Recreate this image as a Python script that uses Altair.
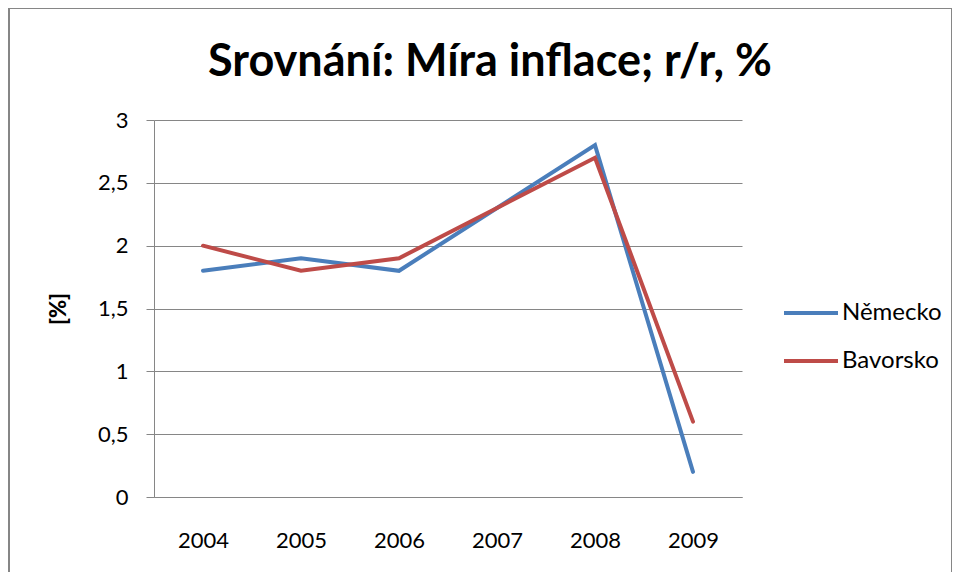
import altair as alt
import pandas as pd

title_text = "Srovnání: Míra inflace; r/r, %"
years = ["2004", "2005", "2006", "2007", "2008", "2009"]
nemecko = [1.8, 1.9, 1.8, 2.3, 2.8, 0.2]
bavorsko = [2.0, 1.8, 1.9, 2.3, 2.7, 0.6]
series = ["Německo", "Bavorsko"]
colors = ["#4A7EBB", "#BE4B48"]

rows = []
for y, a, b in zip(years, nemecko, bavorsko):
    rows.append({"rok": y, "serie": series[0], "hodnota": a})
    rows.append({"rok": y, "serie": series[1], "hodnota": b})
df = pd.DataFrame(rows)

FONT = "Lato"

lines = alt.Chart(df).mark_line(strokeWidth=4, strokeCap="round").encode(
    x=alt.X("rok:N", sort=years, title=None,
            scale=alt.Scale(paddingInner=0, paddingOuter=0.5),
            axis=alt.Axis(labelAngle=0, ticks=False, labelPadding=33,
                          labelFontSize=22, labelFont=FONT, labelColor="#000000",
                          domainColor="#868686", domainWidth=1, grid=False)),
    y=alt.Y("hodnota:Q", title="[%]",
            scale=alt.Scale(domain=[0, 3], nice=False),
            axis=alt.Axis(values=[0, 0.5, 1, 1.5, 2, 2.5, 3],
                          labelExpr="replace(format(datum.value, '.1~f'), '.', ',')",
                          tickSize=8, tickColor="#868686", labelPadding=18,
                          labelFontSize=22, labelFont=FONT, labelColor="#000000",
                          titleFontSize=22, titleFont=FONT, titleFontWeight=900,
                          titleColor="#000000", titlePadding=27,
                          domainColor="#868686", gridColor="#868686", gridWidth=1)),
    color=alt.Color("serie:N", sort=series,
                    scale=alt.Scale(domain=series, range=colors),
                    legend=alt.Legend(title=None, orient="none", legendX=628, legendY=164,
                                      symbolType="stroke", symbolSize=2916,
                                      symbolStrokeWidth=4, labelFontSize=24,
                                      labelFont=FONT, labelColor="#000000",
                                      labelOffset=2, rowPadding=7)),
)

single = pd.DataFrame({"t": [title_text]})

border = alt.Chart(single).mark_rect(
    fill=None, stroke="#868686", strokeWidth=2
).encode(
    x=alt.value(-145), x2=alt.value(798), y=alt.value(-112), y2=alt.value(520)
)

title = alt.Chart(single).mark_text(
    fontSize=45, font=FONT, fontWeight="bold", color="#000000",
    align="center", baseline="alphabetic"
).encode(text="t:N", x=alt.value(336), y=alt.value(-44))

chart = alt.layer(border, lines, title).properties(
    width=588, height=377,
    autosize=alt.AutoSizeParams(type="none"),
    padding={"left": 146, "top": 112, "right": 210, "bottom": 75},
).configure_view(stroke=None)

chart.save("out.html", embed_options={"renderer": "svg", "actions": False})
